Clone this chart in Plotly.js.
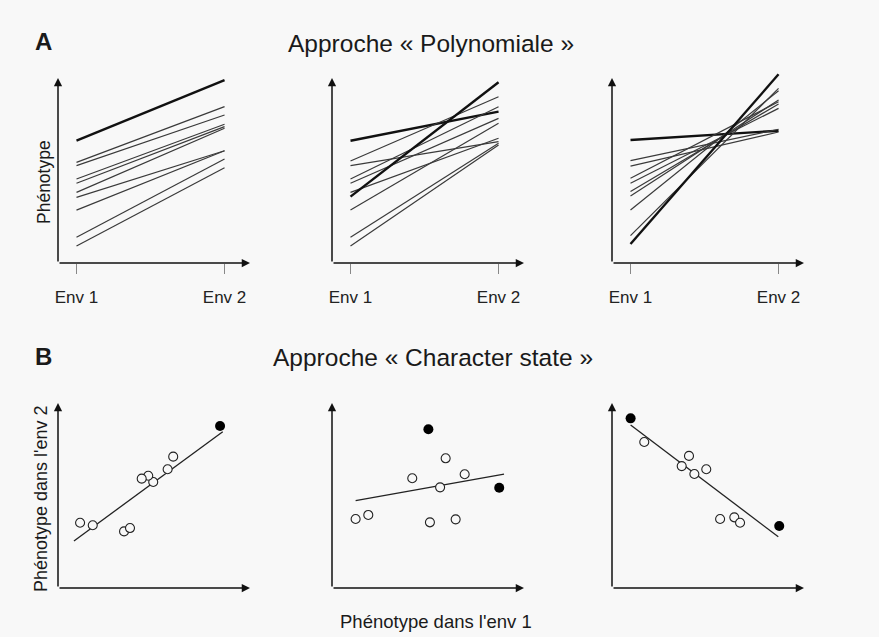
<!DOCTYPE html>
<html>
<head>
<meta charset="utf-8">
<script src="https://cdn.plot.ly/plotly-3.0.1.min.js"></script>
<style>html,body{margin:0;padding:0;background:#f8f8f8;}#chart{width:879px;height:637px;}</style>
</head>
<body>
<div id="chart"></div>
<script>
// ---------- DATA ----------
const envLabels = ['Env 1', 'Env 2'];
const envPositions = [1, 2];

// Panel A (norms of reaction): phenotype in Env 1 and Env 2 for each genotype
const polyA1Env1 = [6.61, 5.44, 5.26, 4.54, 4.31, 3.82, 3.55, 2.86, 1.39, 0.92];
const polyA1Env2 = [9.89, 8.45, 8.00, 7.50, 7.37, 7.28, 6.07, 6.07, 5.62, 5.15];
const polyA2Env1 = [6.61, 5.51, 5.26, 4.54, 4.31, 3.82, 3.59, 2.86, 1.39, 0.92];
const polyA2Env2 = [8.18, 8.99, 6.56, 8.45, 7.82, 6.74, 9.77, 7.55, 6.47, 6.38];
const polyA3Env1 = [6.65, 5.53, 5.24, 4.58, 4.31, 3.86, 3.62, 2.86, 1.48, 1.03];
const polyA3Env2 = [7.15, 7.23, 7.08, 8.72, 8.36, 8.60, 8.81, 9.31, 9.44, 10.2];

// Panel B (character state): phenotype env 1 (x) vs env 2 (y)
const stateB1OpenX = [6.00, 5.71, 4.96, 4.70, 4.36, 1.15, 1.81, 3.44, 3.75];
const stateB1OpenY = [7.10, 6.42, 5.73, 6.07, 5.91, 3.53, 3.39, 3.06, 3.24];
const stateB1FilledX = [8.44];
const stateB1FilledY = [8.76];
const stateB1FitX = [0.83, 8.58];
const stateB1FitY = [2.54, 8.45];

const stateB2OpenX = [5.92, 4.18, 6.91, 5.63, 1.23, 1.89, 5.10, 6.44];
const stateB2OpenY = [7.01, 5.93, 6.15, 5.44, 3.73, 3.95, 3.55, 3.71];
const stateB2FilledX = [5.02, 8.71];
const stateB2FilledY = [8.58, 5.42];
const stateB2FitX = [1.23, 8.96];
const stateB2FitY = [4.72, 6.16];

const stateB3OpenX = [1.68, 4.01, 3.63, 4.29, 4.91, 5.63, 6.37, 6.67];
const stateB3OpenY = [7.89, 7.14, 6.59, 6.16, 6.42, 3.73, 3.82, 3.53];
const stateB3FilledX = [0.97, 8.71];
const stateB3FilledY = [9.17, 3.35];
const stateB3FitX = [0.97, 8.66];
const stateB3FitY = [8.81, 2.77];

// ---------- STYLE / LAYOUT CONFIG ----------
const FONT = 'Liberation Sans, Arial, Helvetica, sans-serif';
const W = 879, H = 637;
const boldLinesA = [[0], [0, 6], [0, 9]];
const xRangeA = [0.875, 2.172];
const yRangeA = [0, 10.6];
const yArrowTopA = 10;
const xRangeB = [0, 10];
const yRangeB = [0, 10];

const px = v => v / W;
const py = v => 1 - v / H;

const colsX = [[58, 250], [332, 524], [612, 804]];
const rowA = [py(263), py(263 - 10.6 * 18.5)];
const rowB = [py(588), py(403)];

const traces = [];
const polyData = [[polyA1Env1, polyA1Env2], [polyA2Env1, polyA2Env2], [polyA3Env1, polyA3Env2]];
polyData.forEach((pd, p) => {
  const ax = p === 0 ? '' : String(p + 1);
  pd[0].forEach((v1, i) => {
    const bold = boldLinesA[p].indexOf(i) >= 0;
    traces.push({
      type: 'scatter', mode: 'lines',
      x: envPositions, y: [v1, pd[1][i]],
      xaxis: 'x' + ax, yaxis: 'y' + ax,
      line: {color: bold ? '#111' : '#3a3a3a', width: bold ? 2.4 : 1.2},
      hoverinfo: 'skip', showlegend: false
    });
  });
});

const stateData = [
  [stateB1OpenX, stateB1OpenY, stateB1FilledX, stateB1FilledY, stateB1FitX, stateB1FitY],
  [stateB2OpenX, stateB2OpenY, stateB2FilledX, stateB2FilledY, stateB2FitX, stateB2FitY],
  [stateB3OpenX, stateB3OpenY, stateB3FilledX, stateB3FilledY, stateB3FitX, stateB3FitY]
];
stateData.forEach((sd, p) => {
  const ax = String(p + 4);
  traces.push({type: 'scatter', mode: 'lines', x: sd[4], y: sd[5], xaxis: 'x' + ax, yaxis: 'y' + ax,
    line: {color: '#222', width: 1.3}, showlegend: false, hoverinfo: 'skip'});
  traces.push({type: 'scatter', mode: 'markers', x: sd[0], y: sd[1], xaxis: 'x' + ax, yaxis: 'y' + ax,
    marker: {symbol: 'circle', size: 9, color: '#f8f8f8', line: {color: '#222', width: 1.1}},
    showlegend: false, hoverinfo: 'skip'});
  traces.push({type: 'scatter', mode: 'markers', x: sd[2], y: sd[3], xaxis: 'x' + ax, yaxis: 'y' + ax,
    marker: {symbol: 'circle', size: 10, color: '#000', line: {color: '#000', width: 0}},
    showlegend: false, hoverinfo: 'skip'});
});

const layout = {
  width: W, height: H,
  margin: {l: 0, r: 0, t: 0, b: 0},
  paper_bgcolor: '#f8f8f8', plot_bgcolor: 'rgba(0,0,0,0)',
  font: {family: FONT, color: '#222'},
  showlegend: false,
  annotations: []
};

const hiddenY = (dom, range) => ({domain: dom, range: range, showgrid: false, zeroline: false,
  showline: false, showticklabels: false, ticks: '', fixedrange: true});

for (let p = 0; p < 3; p++) {
  const a = p === 0 ? '' : String(p + 1);
  const b = String(p + 4);
  layout['xaxis' + a] = {
    domain: [px(colsX[p][0]), px(colsX[p][1])], range: xRangeA, anchor: 'y' + a,
    showgrid: false, zeroline: false, showline: false,
    tickmode: 'array', tickvals: envPositions, ticktext: envLabels,
    ticks: 'outside', ticklen: 10, tickwidth: 1.2, tickcolor: '#888',
    ticklabelstandoff: 9,
    tickfont: {family: FONT, size: 17, color: '#222'}, fixedrange: true
  };
  layout['yaxis' + a] = Object.assign(hiddenY(rowA, yRangeA), {anchor: 'x' + a});
  layout['xaxis' + b] = {
    domain: [px(colsX[p][0]), px(colsX[p][1])], range: xRangeB, anchor: 'y' + b,
    showgrid: false, zeroline: false, showline: false, showticklabels: false, ticks: '', fixedrange: true
  };
  layout['yaxis' + b] = Object.assign(hiddenY(rowB, yRangeB), {anchor: 'x' + b});

  // axis arrows
  const arrow = (xr, yr, x, y, axv, ayv) => ({
    xref: xr, yref: yr, axref: xr, ayref: yr, x: x, y: y, ax: axv, ay: ayv,
    text: '', showarrow: true, arrowhead: 2, arrowsize: 1.1, arrowwidth: 1.5, arrowcolor: '#111'
  });
  layout.annotations.push(arrow('x' + a, 'y' + a, xRangeA[1], yRangeA[0], xRangeA[0], yRangeA[0]));
  layout.annotations.push(arrow('x' + a, 'y' + a, xRangeA[0], yArrowTopA, xRangeA[0], yRangeA[0]));
  layout.annotations.push(arrow('x' + b, 'y' + b, xRangeB[1], yRangeB[0], xRangeB[0], yRangeB[0]));
  layout.annotations.push(arrow('x' + b, 'y' + b, xRangeB[0], yRangeB[1], xRangeB[0], yRangeB[0]));
}

const txt = (t, x, y, size, extra) => Object.assign({
  xref: 'paper', yref: 'paper', x: px(x), y: py(y), text: t, showarrow: false,
  xanchor: 'center', yanchor: 'middle', font: {family: FONT, size: size, color: '#1a1a1a'}
}, extra || {});

layout.annotations.push(txt('<b>A</b>', 43, 42, 24));
layout.annotations.push(txt('Approche « Polynomiale »', 431, 43, 24.5));
layout.annotations.push(txt('Phénotype', 44, 182, 17.5, {textangle: -90}));
layout.annotations.push(txt('<b>B</b>', 43, 356, 24));
layout.annotations.push(txt('Approche « Character state »', 433, 357, 24.5));
layout.annotations.push(txt("Phénotype dans l'env 2", 41, 499, 18, {textangle: -90}));
layout.annotations.push(txt("Phénotype dans l'env 1", 436, 621, 18.5));

Plotly.newPlot('chart', traces, layout, {displayModeBar: false, staticPlot: true});
</script>
</body>
</html>
